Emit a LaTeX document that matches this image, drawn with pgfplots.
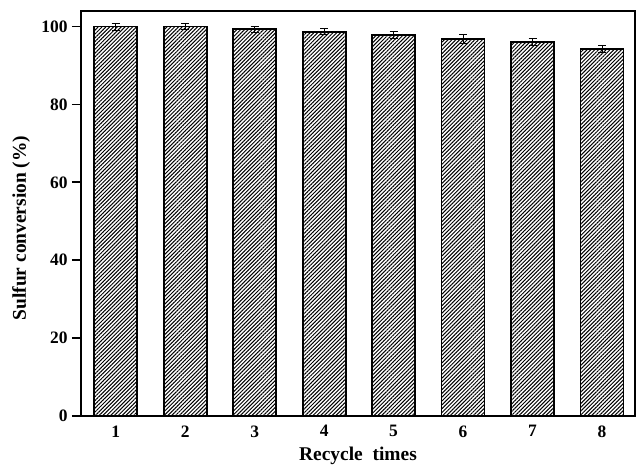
\documentclass[border=0pt]{standalone}
\usepackage{pgfplots}
\pgfplotsset{compat=1.18}
\usetikzlibrary{patterns.meta}
\usepackage{fontspec}
\setmainfont{Liberation Serif}
\pgfplotstableread{
x y e
1 100.0 0.85
2 100.0 0.75
3 99.3 0.7
4 98.7 0.8
5 97.8 0.9
6 96.9 1.1
7 96.0 0.9
8 94.2 0.9
}\datatable
\begin{document}
\begin{tikzpicture}
\begin{axis}[
 scale only axis, width=554bp, height=405bp,
 xmin=0.5, xmax=8.475, ymin=0, ymax=104,
 ybar, bar width=43bp,
 xtick={1,...,8}, ytick={0,20,...,100},
 tick align=outside, ytick pos=left, xtick pos=bottom,
 x tick style={draw=none},
 y tick style={line width=1.8bp, black},
 major tick length=9bp,
 axis line style={line width=1.8bp},
 tick label style={font=\bfseries\fontsize{17.5}{17.5}\selectfont},
 /pgf/number format/assume math mode=true,
 yticklabel style={xshift=-1bp},
 xticklabel style={yshift=3bp},
 xlabel={Recycle\ \ times}, ylabel={Sulfur conversion (\%)},
 label style={font=\bfseries\fontsize{19.5}{19.5}\selectfont},
 xlabel style={at={(axis description cs:0.5,0)}, anchor=base, yshift=-44.5bp},
 ylabel style={at={(axis description cs:-0.108,0.464)}, anchor=center},
]
\addplot[draw=black, line width=1.8bp, fill=white,
 postaction={pattern={Lines[angle=45,distance=2.7bp,line width=1bp]}},
 error bars/.cd, y dir=both, y explicit,
 error bar style={line width=0.6bp, black, solid},
 error mark options={rotate=90, mark size=4bp, line width=0.6bp, black}]
 table[x=x, y=y, y error=e]{\datatable};
\end{axis}
\pgfresetboundingbox
\path[use as bounding box] (current axis.south west) ++(-81bp,-49bp) rectangle ++(637bp,465bp);
\end{tikzpicture}
\end{document}
